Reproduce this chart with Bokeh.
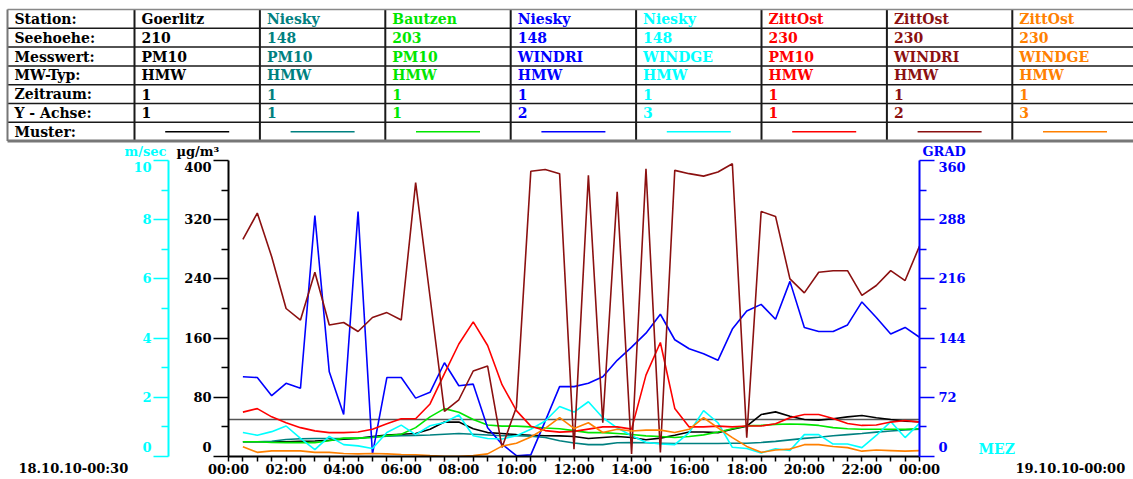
from bokeh.plotting import figure
from bokeh.models import Range1d, LinearAxis, FixedTicker, Span, ColumnDataSource
from bokeh.layouts import column, row
from bokeh.embed import file_html
from bokeh.resources import INLINE
from bokeh.core.properties import value

FONT = "DejaVu Serif"

# ---------------- data ----------------
row_labels = ["Station:", "Seehoehe:", "Messwert:", "MW-Typ:", "Zeitraum:", "Y - Achse:", "Muster:"]
stations = ["Goerlitz", "Niesky", "Bautzen", "Niesky", "Niesky", "ZittOst", "ZittOst", "ZittOst"]
seehoehe = ["210", "148", "203", "148", "148", "230", "230", "230"]
messwert = ["PM10", "PM10", "PM10", "WINDRI", "WINDGE", "PM10", "WINDRI", "WINDGE"]
mwtyp = ["HMW", "HMW", "HMW", "HMW", "HMW", "HMW", "HMW", "HMW"]
zeitraum = ["1", "1", "1", "1", "1", "1", "1", "1"]
yachse = ["1", "1", "1", "2", "3", "1", "2", "3"]
colors = ["#000000", "#008080", "#00E600", "#0000FF", "#00FFFF", "#FF0000", "#8B1010", "#FF8000"]

hours = [0.5, 1.0, 1.5, 2.0, 2.5, 3.0, 3.5, 4.0, 4.5, 5.0, 5.5, 6.0,
         6.5, 7.0, 7.5, 8.0, 8.5, 9.0, 9.5, 10.0, 10.5, 11.0, 11.5, 12.0,
         12.5, 13.0, 13.5, 14.0, 14.5, 15.0, 15.5, 16.0, 16.5, 17.0, 17.5, 18.0,
         18.5, 19.0, 19.5, 20.0, 20.5, 21.0, 21.5, 22.0, 22.5, 23.0, 23.5, 24.0]

goerlitz_pm10 = [20, 20, 20, 20, 20.5, 21, 22, 23.5, 24.5, 27, 29, 30,
                 31, 36.8, 46.5, 46.5, 37.6, 32.3, 31, 29.7, 28.8, 28, 27.9, 27,
                 24.4, 25.7, 27, 25.7, 22.6, 24.8, 28.8, 33.2, 33.2, 32.3, 36.8, 41,
                 56.7, 60.3, 54.5, 50, 49.2, 51, 53.6, 55.4, 52.3, 50, 47.8, 47]
niesky_pm10 = [20, 20, 20.5, 23, 24, 24.4, 24.4, 24.4, 25, 26, 27.5, 28,
               28.5, 29, 30, 31, 30, 29, 28, 28, 27.5, 25.7, 21.3, 18.2,
               16, 16, 18.5, 19, 18.5, 18, 17.5, 17.5, 17.5, 17.5, 18, 18,
               19, 20.5, 22.5, 24.5, 26, 28, 29.5, 31, 33, 34.5, 36, 37]
bautzen_pm10 = [20, 20, 19, 18.7, 18.7, 18.7, 21.3, 24.8, 24.8, 25.7, 28, 30,
                39, 53.6, 64.7, 59.8, 50, 42.5, 41, 41, 40, 38.5, 37.6, 35,
                32.3, 32.3, 31, 29.7, 27.9, 27, 25.7, 27, 29.2, 33.2, 37.6, 41.5,
                42, 43.4, 43.9, 43.4, 42, 39, 37.6, 36.8, 36.8, 36.8, 36.8, 37.6]
niesky_windri = [97, 96, 74, 89, 83, 293, 103, 51, 298, 3, 96, 96,
                 71, 78, 114, 86, 88, 35, 15, 1, 2, 43, 85, 85,
                 89, 97, 117, 133, 150, 173, 142, 131, 125, 117, 155, 177,
                 185, 167, 213, 157, 152, 152, 160, 188, 169, 149, 157, 145]
niesky_windge = [0.81, 0.72, 0.84, 1.03, 0.61, 0.23, 0.68, 0.40, 0.36, 0.27, 0.81, 1.06,
                 0.74, 1.04, 1.15, 1.40, 0.70, 0.61, 0.59, 0.70, 0.92, 1.20, 1.69, 1.50,
                 1.85, 1.31, 0.97, 0.70, 0.48, 0.42, 0.40, 0.81, 1.55, 1.14, 0.31, 0.27,
                 0.12, 0.26, 0.20, 0.74, 0.74, 0.42, 0.42, 0.30, 0.71, 1.18, 0.64, 1.12]
zittost_pm10 = [60, 64.7, 53.6, 45.6, 39, 34.6, 32.3, 32.3, 33.2, 36.8, 44.3, 51,
                51, 71, 112, 152, 182, 150, 97, 62, 41, 35, 33, 34,
                37, 40, 40, 37, 110, 154, 65, 40, 40, 41, 40, 41.2,
                41.2, 44.3, 52.3, 56.7, 56.7, 51.4, 44.7, 42, 42.5, 46.5, 48.7, 46.5]
zittost_windri = [264, 296, 243, 180, 166, 224, 160, 163, 152, 169, 175, 166,
                  333, 194, 55, 69, 104, 110, 11, 60, 347, 349, 344, 9,
                  342, 41, 322, 3, 350, 5, 348, 344, 341, 346, 356, 23,
                  298, 292, 216, 199, 224, 226, 226, 196, 208, 226, 214, 256]
zittost_windge = [0.33, 0.14, 0.19, 0.19, 0.19, 0.14, 0.14, 0.10, 0.09, 0.10, 0.09, 0.07,
                  0.06, 0.03, 0.01, 0.01, 0.03, 0.09, 0.35, 0.45, 0.66, 0.95, 1.31, 0.95,
                  1.14, 0.81, 0.92, 0.86, 0.89, 0.89, 0.81, 0.92, 1.31, 0.97, 0.64, 0.34,
                  0.14, 0.22, 0.25, 0.40, 0.40, 0.34, 0.30, 0.18, 0.22, 0.20, 0.18, 0.20]

series_values = [goerlitz_pm10, niesky_pm10, bautzen_pm10, niesky_windri,
                 niesky_windge, zittost_pm10, zittost_windri, zittost_windge]

pm_ticks = [0, 80, 160, 240, 320, 400]
pm_minor = [40, 120, 200, 280, 360]
grad_ticks = [0, 72, 144, 216, 288, 360]
grad_minor = [36, 108, 180, 252, 324]
ms_ticks = [0, 2, 4, 6, 8, 10]
ms_minor = [1, 3, 5, 7, 9]
x_label_hours = [0, 2, 4, 6, 8, 10, 12, 14, 16, 18, 20, 22, 24]
x_labels = ["00:00", "02:00", "04:00", "06:00", "08:00", "10:00", "12:00",
            "14:00", "16:00", "18:00", "20:00", "22:00", "00:00"]
unit_labels = ["m/sec", "µg/m³", "GRAD"]
unit_colors = ["#00FFFF", "#000000", "#0000FF"]
start_label = "18.10.10-00:30"
end_label = "19.10.10-00:00"
tz_label = "MEZ"


def no_align(f):
    try:
        f.frame_align = False
    except Exception:
        pass


def blank_fig(w, h, x0, x1, y0, y1):
    f = figure(width=w, height=h, x_range=Range1d(x0, x1), y_range=Range1d(y1, y0),
               x_axis_type=None, y_axis_type=None, toolbar_location=None,
               output_backend="svg", min_border=0, outline_line_color=None)
    no_align(f)
    return f


def txt(size):
    return dict(text_font=value(FONT), text_font_style="bold", text_font_size=size,
                text_baseline="middle")


# ---------------- page geometry (page pixel coordinates) ----------------
PAGE_W, PAGE_H = 1133, 479
SPLIT_Y = 159          # table figure / chart row boundary
FRAME_L, FRAME_R = 227, 919
CHART_L, CHART_R = 130, 975
BOT = 20
AXIS_Y = 456           # where the x axis ends up after layout
LBL_Y = 468            # centre line of the x tick labels

# ---------------- table figure ----------------
t = blank_fig(PAGE_W, SPLIT_Y, 0, PAGE_W, 0, SPLIT_Y)

row_top = 9.0
row_h = 18.8
col_w = 125.4
left_edge = 7.0
first_w = 127.0
col_edges = [left_edge] + [left_edge + first_w + i * col_w for i in range(9)]
table_bottom = row_top + 7 * row_h
far = 1150

hy = [row_top + k * row_h for k in range(1, 7)]
t.segment(x0=[left_edge] * 6, y0=hy, x1=[far] * 6, y1=hy, line_color="#1a1a1a", line_width=1.5)
vx = col_edges[1:-1]
t.segment(x0=vx, y0=[row_top] * len(vx), x1=vx, y1=[table_bottom] * len(vx),
          line_color="#1a1a1a", line_width=2)
t.segment(x0=[left_edge, left_edge, left_edge], y0=[row_top, row_top, table_bottom],
          x1=[far, left_edge, far], y1=[row_top, table_bottom, table_bottom],
          line_color=["#888888", "#777777", "#777777"], line_width=[1.5, 2, 3])

tx, ty, tt, tc = [], [], [], []
for r, lab in enumerate(row_labels):
    tx.append(left_edge + 7)
    ty.append(row_top + (r + 0.5) * row_h)
    tt.append(lab)
    tc.append("#000000")
rows = [stations, seehoehe, messwert, mwtyp, zeitraum, yachse]
for r, vals in enumerate(rows):
    for i, v in enumerate(vals):
        tx.append(col_edges[i + 1] + 7)
        ty.append(row_top + (r + 0.5) * row_h)
        tt.append(v)
        tc.append(colors[i])
t.text(x="x", y="y", text="t", text_color="c",
       source=ColumnDataSource(dict(x=tx, y=ty, t=tt, c=tc)), text_align="left", **txt("14px"))

# axis unit captions above the chart
t.text(x=[124, 176, 922], y=[150.5] * 3, text=unit_labels, text_color=unit_colors,
       text_align="left", **txt("13px"))

my = row_top + 6.5 * row_h
cx = [(col_edges[i + 1] + col_edges[i + 2]) / 2 for i in range(8)]
t.segment(x0=[c - 32 for c in cx], y0=[my] * 8, x1=[c + 32 for c in cx], y1=[my] * 8,
          line_color=colors, line_width=1.5)

# ---------------- chart figure ----------------
C_H = PAGE_H - SPLIT_Y
p = figure(width=CHART_R - CHART_L, height=C_H, x_range=Range1d(0, 24), y_range=Range1d(0, 400),
           toolbar_location=None, output_backend="svg",
           min_border_left=FRAME_L - CHART_L, min_border_right=CHART_R - FRAME_R,
           min_border_top=1, min_border_bottom=BOT, outline_line_color=None)
no_align(p)
p.extra_y_ranges = {"grad": Range1d(0, 360), "ms": Range1d(0, 10)}
p.xgrid.visible = False
p.ygrid.visible = False


def style_axis(ax, color):
    ax.axis_line_color = color
    ax.axis_line_width = 2
    ax.major_tick_line_color = color
    ax.major_tick_line_width = 1.5
    ax.minor_tick_line_color = color
    ax.minor_tick_line_width = 1.5
    ax.major_tick_in = 0
    ax.minor_tick_in = 0
    ax.major_label_text_color = color
    ax.major_label_text_font = FONT
    ax.major_label_text_font_style = "bold"
    ax.major_label_text_font_size = "13px"


xa = p.xaxis[0]
style_axis(xa, "#000000")
xa.ticker = FixedTicker(ticks=x_label_hours,
                        minor_ticks=[h + 1 for h in range(0, 24, 2)] + [h + 0.5 for h in range(24)])
xa.major_label_overrides = {h: s for h, s in zip(x_label_hours, x_labels)}
xa.major_tick_out = 5
xa.minor_tick_out = 5
xa.major_label_standoff = 0
xa.major_label_text_line_height = 1.0

ya = p.yaxis[0]
style_axis(ya, "#000000")
ya.ticker = FixedTicker(ticks=pm_ticks, minor_ticks=pm_minor)
ya.major_tick_out = 15
ya.minor_tick_out = 7
ya.major_label_standoff = 2
ya.major_label_overrides = {0: "0\n "}
# invisible spacer label: pushes the m/sec axis further out
ya.axis_label = " "
ya.axis_label_text_font_size = "13px"
ya.axis_label_standoff = -5

ms_axis = LinearAxis(y_range_name="ms", ticker=FixedTicker(ticks=ms_ticks, minor_ticks=ms_minor))
style_axis(ms_axis, "#00FFFF")
ms_axis.major_tick_out = 15
ms_axis.minor_tick_out = 7
ms_axis.major_label_standoff = 2
ms_axis.major_label_overrides = {0: "0\n "}
p.add_layout(ms_axis, "left")

grad_axis = LinearAxis(y_range_name="grad", ticker=FixedTicker(ticks=grad_ticks, minor_ticks=grad_minor))
style_axis(grad_axis, "#0000FF")
grad_axis.major_tick_out = 15
grad_axis.minor_tick_out = 7
grad_axis.major_label_standoff = 4
grad_axis.major_label_overrides = {0: "0\n "}
p.add_layout(grad_axis, "right")

p.add_layout(Span(location=50, dimension="width", line_color="#555555", line_width=1.5, level="underlay"))

range_names = {"1": "default", "2": "grad", "3": "ms"}
for vals, col, ax in zip(series_values, colors, yachse):
    p.line(hours, vals, line_color=col, line_width=1.6, y_range_name=range_names[ax])

# ---------------- side figures (date captions) ----------------
lf = blank_fig(CHART_L, C_H, 0, CHART_L, SPLIT_Y, PAGE_H)
lf.text(x=[18], y=[LBL_Y], text=[start_label], text_color="#000000", text_align="left", **txt("13px"))

rf = blank_fig(PAGE_W - CHART_R, C_H, CHART_R, PAGE_W, SPLIT_Y, PAGE_H)
rf.text(x=[1015], y=[LBL_Y], text=[end_label], text_color="#000000", text_align="left", **txt("13px"))
rf.text(x=[978], y=[AXIS_Y - 8], text=[tz_label], text_color="#00FFFF", text_align="left", **txt("14px"))

layout = column(t, row(lf, p, rf, spacing=0), spacing=0)
open("out.html", "w").write(file_html(layout, INLINE))
